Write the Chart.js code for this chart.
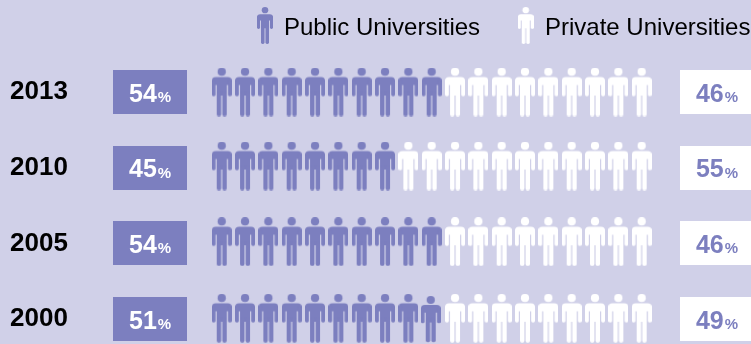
<!DOCTYPE html>
<html><head><meta charset="utf-8">
<script src="https://cdn.jsdelivr.net/npm/chart.js@4"></script>
<style>html,body{margin:0;padding:0;background:#d0d0e8;overflow:hidden}canvas{display:block}</style>
</head><body><canvas id="c" width="751" height="344"></canvas>
<script>
const years = ['2013', '2010', '2005', '2000'];
const publicShare = [54, 45, 54, 51];
const privateShare = [46, 55, 46, 49];
const publicFigures = [10, 8, 10, 10];
const privateFigures = [9, 11, 9, 9];
const seriesNames = ['Public Universities', 'Private Universities'];

const BG = '#d0d0e8', BLUE = '#7c7fbf', WHITE = '#ffffff';
const FONT = '"Liberation Sans", Arial, sans-serif';
const rowNudge = [0, -0.022, -0.022, -0.01];

function figure(color, sx, sy) {
  const c = document.createElement('canvas');
  c.width = Math.ceil(20 * sx); c.height = Math.ceil(49 * sy);
  const g = c.getContext('2d');
  g.scale(sx, sy); g.fillStyle = color;
  g.beginPath(); g.arc(10, 4.2, 4.1, 0, Math.PI * 2); g.fill();
  g.beginPath(); g.roundRect(0, 9.6, 20, 8, [4, 4, 0, 0]); g.fill();
  g.beginPath(); g.roundRect(0, 12, 3.8, 16.8, 1.8); g.fill();
  g.beginPath(); g.roundRect(16.2, 12, 3.8, 16.8, 1.8); g.fill();
  g.fillRect(5, 12, 10, 16);
  g.beginPath(); g.roundRect(5, 24, 4.4, 24.7, 1.9); g.fill();
  g.beginPath(); g.roundRect(10.6, 24, 4.4, 24.7, 1.9); g.fill();
  return c;
}
function box(color) {
  const c = document.createElement('canvas');
  c.width = 74; c.height = 44;
  const g = c.getContext('2d');
  g.fillStyle = color; g.fillRect(0, 0, 74, 44);
  return c;
}
const pubIcon = figure(BLUE, 1, 1), privIcon = figure(WHITE, 1, 1);
const pubShort = figure(BLUE, 1, 0.95);
const pubLegend = figure(BLUE, 0.8, 0.76), privLegend = figure(WHITE, 0.8, 0.76);
const pubBox = box(BLUE), privBox = box(WHITE);

const pubPts = [], privPts = [];
years.forEach((_, r) => {
  for (let i = 0; i < publicFigures[r]; i++) {
    const isShort = r === 3 && i === publicFigures[3] - 1;
    pubPts.push({ x: i - (isShort ? 0.04 : 0), y: r + rowNudge[r] + (isShort ? 0.015 : 0), isShort });
  }
  for (let i = 0; i < privateFigures[r]; i++) privPts.push({ x: publicFigures[r] + i, y: r + rowNudge[r] });
});
const leftBoxX = -3.07, rightBoxX = 21.23;
const boxPts = x => years.map((_, r) => ({ x, y: r }));

const overlay = {
  id: 'overlay',
  beforeDraw(ch) {
    const g = ch.ctx; g.save(); g.fillStyle = BG; g.fillRect(0, 0, ch.width, ch.height); g.restore();
  },
  afterDraw(ch) {
    const g = ch.ctx, xs = ch.scales.x, ys = ch.scales.y;
    g.save();
    g.textBaseline = 'alphabetic'; g.textAlign = 'left';
    const label = (val, cx, cy, color) => {
      const a = String(val), b = '%';
      g.font = 'bold 25px ' + FONT; const wa = g.measureText(a).width;
      g.font = 'bold 15px ' + FONT; const wb = g.measureText(b).width;
      const left = cx - (wa + wb + 1) / 2;
      g.fillStyle = color;
      g.font = 'bold 25px ' + FONT; g.fillText(a, left, cy + 9.5);
      g.font = 'bold 15px ' + FONT; g.fillText(b, left + wa + 1, cy + 10);
    };
    years.forEach((_, r) => {
      label(publicShare[r], xs.getPixelForValue(leftBoxX), ys.getPixelForValue(r), WHITE);
      label(privateShare[r], xs.getPixelForValue(rightBoxX), ys.getPixelForValue(r), BLUE);
    });
    g.drawImage(pubLegend, 257, 7);
    g.drawImage(privLegend, 517.7, 7);
    g.fillStyle = '#000'; g.font = '24px ' + FONT;
    g.fillText(seriesNames[0], 284, 35);
    g.fillText(seriesNames[1], 545, 35);
    g.restore();
  }
};

new Chart(document.getElementById('c'), {
  type: 'scatter',
  data: { datasets: [
    { label: 'public share box', data: boxPts(leftBoxX), pointStyle: pubBox, clip: false },
    { label: 'private share box', data: boxPts(rightBoxX), pointStyle: privBox, clip: false },
    { label: seriesNames[0], data: pubPts, clip: false,
      pointStyle: c => (c.raw && c.raw.isShort) ? pubShort : pubIcon },
    { label: seriesNames[1], data: privPts, pointStyle: privIcon, clip: false }
  ] },
  options: {
    responsive: false, animation: false,
    layout: { autoPadding: false, padding: { left: 10, right: 0, top: 0, bottom: 0 } },
    plugins: { legend: { display: false }, tooltip: { enabled: false } },
    scales: {
      x: { type: 'linear', display: false, min: -5.216, max: 22.687 },
      y: {
        type: 'linear', reverse: true, min: -1.216, max: 3.33,
        afterFit(s) { s.width = 90; s.paddingTop = 0; s.paddingBottom = 0; },
        afterBuildTicks(s) { s.ticks = years.map((_, i) => ({ value: i })); },
        grid: { display: false, drawTicks: false }, border: { display: false },
        ticks: {
          autoSkip: false, crossAlign: 'far', color: '#000', padding: 0,
          font: { family: FONT, size: 26, weight: 'bold' },
          callback: v => years[v]
        }
      }
    }
  },
  plugins: [overlay]
});
</script></body></html>
